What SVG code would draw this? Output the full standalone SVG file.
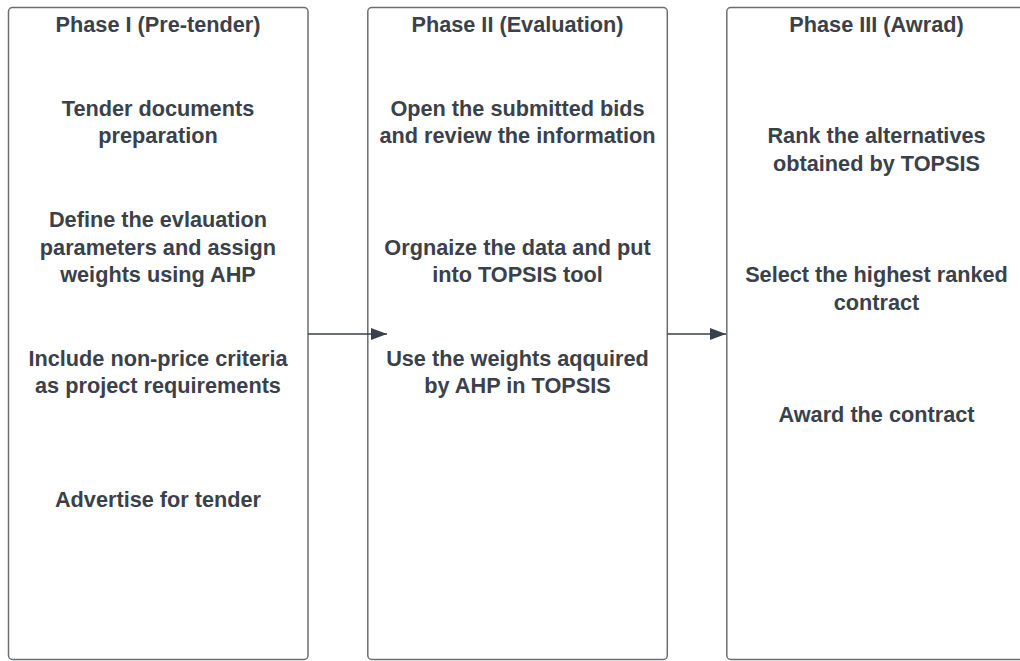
<svg xmlns="http://www.w3.org/2000/svg" width="1020" height="661" viewBox="0 0 1020 661">
<style>
.box{fill:#ffffff;stroke:#6b6e72;stroke-width:1.5}
.t{font-family:"Liberation Sans",Arial,sans-serif;font-weight:bold;font-size:21.7px;fill:#3a414a;text-anchor:middle}
.c{stroke:#3a414a;stroke-width:1.5;fill:none}
</style>
<defs>
<marker id="ah" markerUnits="userSpaceOnUse" markerWidth="18" markerHeight="14" refX="16" refY="7" orient="auto">
<path d="M0,1 L16,7 L0,13 Z" fill="#3a414a"/>
</marker>
</defs>
<rect width="1020" height="661" fill="#ffffff"/>
<g id="phase1">
<rect class="box" x="8.5" y="7.5" width="299.5" height="652" rx="4"/>
<text class="t" x="158" y="32">Phase I (Pre-tender)</text>
<text class="t" x="158" y="116">Tender documents</text>
<text class="t" x="158" y="143">preparation</text>
<text class="t" x="158" y="227">Define the evlauation</text>
<text class="t" x="158" y="255">parameters and assign</text>
<text class="t" x="158" y="282">weights using AHP</text>
<text class="t" x="158" y="366">Include non-price criteria</text>
<text class="t" x="158" y="393">as project requirements</text>
<text class="t" x="158" y="507">Advertise for tender</text>
</g>
<g id="phase2">
<rect class="box" x="367.8" y="7.5" width="299.5" height="652" rx="4"/>
<text class="t" x="517.5" y="32">Phase II (Evaluation)</text>
<text class="t" x="517.5" y="116">Open the submitted bids</text>
<text class="t" x="517.5" y="143">and review the information</text>
<text class="t" x="517.5" y="255">Orgnaize the data and put</text>
<text class="t" x="517.5" y="282">into TOPSIS tool</text>
<text class="t" x="517.5" y="366">Use the weights aqquired</text>
<text class="t" x="517.5" y="393">by AHP in TOPSIS</text>
</g>
<g id="phase3">
<rect class="box" x="726.8" y="7.5" width="299.5" height="652" rx="4"/>
<text class="t" x="876.5" y="32">Phase III (Awrad)</text>
<text class="t" x="876.5" y="143">Rank the alternatives</text>
<text class="t" x="876.5" y="171">obtained by TOPSIS</text>
<text class="t" x="876.5" y="282">Select the highest ranked</text>
<text class="t" x="876.5" y="310">contract</text>
<text class="t" x="876.5" y="422">Award the contract</text>
</g>
<g id="connectors">
<line class="c" x1="308" y1="334" x2="387" y2="334" marker-end="url(#ah)"/>
<line class="c" x1="667.3" y1="334" x2="726" y2="334" marker-end="url(#ah)"/>
</g>
</svg>
